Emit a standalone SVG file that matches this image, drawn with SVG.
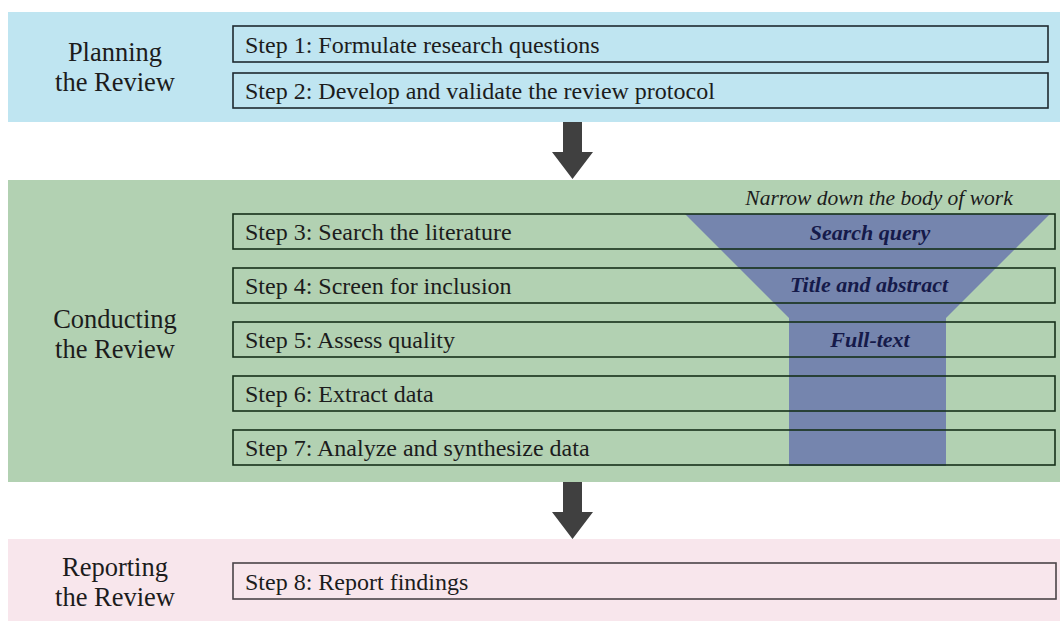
<svg xmlns="http://www.w3.org/2000/svg" width="1060" height="621" viewBox="0 0 1060 621">
  <style>
    .phase { font-family: "Liberation Serif", "Times New Roman", serif; font-size: 26.5px; fill: #1c1c1c; text-anchor: middle; }
    .step-text { font-family: "Liberation Serif", "Times New Roman", serif; font-size: 24px; fill: #1c1c1c; }
    .step-box { fill: none; stroke-width: 1.6; }
    .plan .step-box { stroke: #1f2a30; }
    .conduct .step-box { stroke: #16301a; }
    .report .step-box { stroke: #4a4448; }
    .funnel-label { font-family: "Liberation Serif", "Times New Roman", serif; font-size: 22px; font-weight: bold; font-style: italic; fill: #151a4a; text-anchor: middle; }
    .note { font-family: "Liberation Serif", "Times New Roman", serif; font-size: 21.5px; font-style: italic; fill: #1c1c1c; text-anchor: middle; }
    .arrow { fill: #404040; }
  </style>

  <rect width="1060" height="621" fill="#ffffff"/>

  <!-- Phase bands -->
  <rect id="band-planning" x="8" y="12" width="1052" height="110" fill="#bfe5f1"/>
  <rect id="band-conducting" x="8" y="180" width="1052" height="302" fill="#b2d1b2"/>
  <rect id="band-reporting" x="8" y="539" width="1052" height="82" fill="#f8e6ec"/>

  <!-- Narrowing funnel behind the conducting steps -->
  <g id="funnel">
    <path d="M685 214 L1050 214 L946 318 L946 466 L789 466 L789 318 Z" fill="#7585ae"/>
    <text class="note" x="879" y="205">Narrow down the body of work</text>
    <text class="funnel-label" x="870" y="240">Search query</text>
    <text class="funnel-label" x="869" y="292">Title and abstract</text>
    <text class="funnel-label" x="870" y="347">Full-text</text>
  </g>

  <!-- Phase labels -->
  <g id="phase-planning">
    <text class="phase" x="115" y="61">Planning</text>
    <text class="phase" x="115" y="91">the Review</text>
  </g>
  <g id="phase-conducting">
    <text class="phase" x="115" y="328">Conducting</text>
    <text class="phase" x="115" y="358">the Review</text>
  </g>
  <g id="phase-reporting">
    <text class="phase" x="115" y="576">Reporting</text>
    <text class="phase" x="115" y="606">the Review</text>
  </g>

  <!-- Steps -->
  <g class="plan">
    <g id="step1">
      <rect class="step-box" x="233" y="26" width="815" height="36"/>
      <text class="step-text" x="245" y="53">Step 1: Formulate research questions</text>
    </g>
    <g id="step2">
      <rect class="step-box" x="233" y="73" width="815" height="35"/>
      <text class="step-text" x="245" y="99">Step 2: Develop and validate the review protocol</text>
    </g>
  </g>
  <g class="conduct">
    <g id="step3">
      <rect class="step-box" x="233" y="214" width="822" height="35"/>
      <text class="step-text" x="245" y="240">Step 3: Search the literature</text>
    </g>
    <g id="step4">
      <rect class="step-box" x="233" y="268" width="822" height="35"/>
      <text class="step-text" x="245" y="294">Step 4: Screen for inclusion</text>
    </g>
    <g id="step5">
      <rect class="step-box" x="233" y="322" width="822" height="35"/>
      <text class="step-text" x="245" y="348">Step 5: Assess quality</text>
    </g>
    <g id="step6">
      <rect class="step-box" x="233" y="376" width="822" height="35"/>
      <text class="step-text" x="245" y="402">Step 6: Extract data</text>
    </g>
    <g id="step7">
      <rect class="step-box" x="233" y="430" width="822" height="35"/>
      <text class="step-text" x="245" y="456">Step 7: Analyze and synthesize data</text>
    </g>
  </g>
  <g class="report">
    <g id="step8">
      <rect class="step-box" x="233" y="563" width="823" height="36"/>
      <text class="step-text" x="245" y="590">Step 8: Report findings</text>
    </g>
  </g>

  <!-- Connectors between phases -->
  <g id="connectors">
    <path class="arrow" d="M563 122 L582 122 L582 152 L593 152 L572.5 179 L552 152 L563 152 Z"/>
    <path class="arrow" d="M563 482 L582 482 L582 512 L593 512 L572.5 539 L552 512 L563 512 Z"/>
  </g>
</svg>
